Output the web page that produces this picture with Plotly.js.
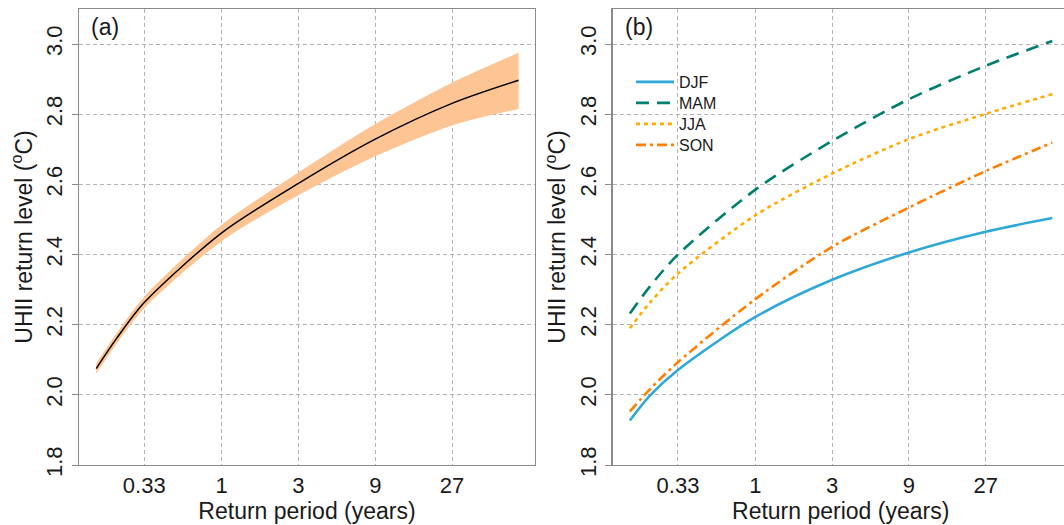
<!DOCTYPE html>
<html>
<head>
<meta charset="utf-8">
<script src="https://cdn.plot.ly/plotly-3.0.1.min.js"></script>
<style>
html, body { margin: 0; padding: 0; overflow: hidden; background: #fff; }
#chart { width: 1070px; height: 525px; }
</style>
</head>
<body>
<div id="chart"></div>
<script>
// Return periods (years) at which the curves were read
const returnPeriod = [0.166, 0.22, 0.33, 1, 3, 9, 27, 70];

// Panel (a): all-season return level with confidence band
const allMean  = [2.075, 2.158, 2.263, 2.462, 2.603, 2.729, 2.831, 2.897];
const allUpper = [2.090, 2.173, 2.280, 2.485, 2.634, 2.772, 2.890, 2.975];
const allLower = [2.061, 2.143, 2.247, 2.438, 2.569, 2.680, 2.768, 2.815];

// Panel (b): seasonal return levels
const seasons = ['DJF', 'MAM', 'JJA', 'SON'];
const djf = [1.927, 1.997, 2.071, 2.222, 2.328, 2.406, 2.465, 2.504];
const mam = [2.232, 2.308, 2.400, 2.585, 2.724, 2.843, 2.938, 3.009];
const jja = [2.190, 2.262, 2.346, 2.512, 2.631, 2.729, 2.801, 2.857];
const son = [1.953, 2.015, 2.093, 2.273, 2.422, 2.534, 2.638, 2.719];

const xTickVals = [0.33, 1, 3, 9, 27];
const xTickText = ['0.33', '1', '3', '9', '27'];
const yTickVals = [1.8, 2.0, 2.2, 2.4, 2.6, 2.8, 3.0];

const FONT = 'Liberation Sans, Arial, Helvetica, sans-serif';
const W = 1070, H = 525;

const seasonStyle = {
  DJF: {color: '#2fa8d8', dash: 'solid', legend: 'legend', ly: 82},
  MAM: {color: '#007f6e', dash: '13px,8px', legend: 'legend2', ly: 103},
  JJA: {color: '#ffab00', dash: '4px,4px', legend: 'legend3', ly: 124},
  SON: {color: '#ff8000', dash: '10px,4px,3px,4px', legend: 'legend4', ly: 145}
};
const seasonData = {DJF: djf, MAM: mam, JJA: jja, SON: son};

const traces = [
  {x: returnPeriod, y: allLower, type: 'scatter', mode: 'lines', line: {width: 0, shape: 'spline', smoothing: 0.8},
   xaxis: 'x', yaxis: 'y', showlegend: false, hoverinfo: 'skip'},
  {x: returnPeriod, y: allUpper, type: 'scatter', mode: 'lines', line: {width: 0, shape: 'spline', smoothing: 0.8},
   fill: 'tonexty', fillcolor: '#fec594', xaxis: 'x', yaxis: 'y', showlegend: false, hoverinfo: 'skip'},
  {x: returnPeriod, y: allMean, type: 'scatter', mode: 'lines', line: {color: '#000', width: 1.5, shape: 'spline', smoothing: 0.8},
   xaxis: 'x', yaxis: 'y', showlegend: false}
];
seasons.forEach(s => {
  traces.push({x: returnPeriod, y: seasonData[s], name: s, type: 'scatter', mode: 'lines',
    line: {color: seasonStyle[s].color, dash: seasonStyle[s].dash, width: 2.6, shape: 'spline', smoothing: 0.8},
    legend: seasonStyle[s].legend, xaxis: 'x2', yaxis: 'y2'});
});

const xr = [-0.887, 1.947];
function xAxis(dom, anchor) {
  return {
    type: 'log', range: xr, domain: dom, anchor: anchor,
    tickvals: xTickVals, ticktext: xTickText, ticks: '',
    showgrid: true, gridcolor: '#b3b3b3', gridwidth: 1, griddash: '4px,3px',
    showline: true, linecolor: '#8a8a8a', linewidth: 1.3, mirror: true,
    zeroline: false, automargin: false,
    tickfont: {family: FONT, size: 22, color: '#1a1a1a'},
    title: {text: 'Return period (years)', font: {family: FONT, size: 23, color: '#1a1a1a'}, standoff: 6}
  };
}
function yAxis(anchor) {
  return {
    range: [1.8, 3.1], domain: [(H - 465) / H, (H - 9) / H], anchor: anchor,
    tickvals: yTickVals, tickformat: '.1f', tickangle: -90,
    ticks: 'outside', ticklen: 6, tickcolor: '#8a8a8a', tickwidth: 1,
    ticklabelstandoff: 1,
    showgrid: true, gridcolor: '#b3b3b3', gridwidth: 1, griddash: '4px,3px',
    showline: true, linecolor: '#8a8a8a', linewidth: 1.3, mirror: true,
    zeroline: false, automargin: false,
    tickfont: {family: FONT, size: 22, color: '#1a1a1a'},
    title: {text: 'UHII return level (<sup>o</sup>C)', font: {family: FONT, size: 23, color: '#1a1a1a'}, standoff: 3}
  };
}

function legendAt(yPx) {
  return {
    x: 631 / W, y: (H - yPx) / H, xanchor: 'left', yanchor: 'middle',
    bgcolor: 'rgba(0,0,0,0)', borderwidth: 0,
    font: {family: FONT, size: 16, color: '#1a1a1a'},
    itemwidth: 38
  };
}

const layout = {
  width: W, height: H,
  margin: {l: 0, r: 0, t: 0, b: 0},
  paper_bgcolor: '#fff', plot_bgcolor: '#fff',
  font: {family: FONT, color: '#1a1a1a'},
  xaxis: xAxis([79 / W, 535 / W], 'y'),
  yaxis: yAxis('x'),
  xaxis2: xAxis([612.7 / W, 1068.7 / W], 'y2'),
  yaxis2: yAxis('x2'),
  showlegend: true,
  legend: legendAt(seasonStyle.DJF.ly),
  legend2: legendAt(seasonStyle.MAM.ly),
  legend3: legendAt(seasonStyle.JJA.ly),
  legend4: legendAt(seasonStyle.SON.ly),
  annotations: [
    {text: '(a)', x: 89 / W, y: (H - 27) / H, xref: 'paper', yref: 'paper', xanchor: 'left', yanchor: 'middle',
     showarrow: false, font: {family: FONT, size: 23, color: '#1a1a1a'}},
    {text: '(b)', x: 623 / W, y: (H - 27) / H, xref: 'paper', yref: 'paper', xanchor: 'left', yanchor: 'middle',
     showarrow: false, font: {family: FONT, size: 23, color: '#1a1a1a'}}
  ]
};

Plotly.newPlot('chart', traces, layout, {displayModeBar: false, staticPlot: true});
</script>
</body>
</html>
